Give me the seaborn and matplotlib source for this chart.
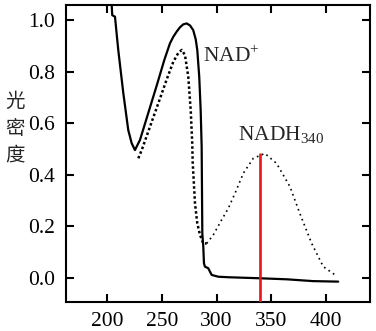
import matplotlib
matplotlib.use("Agg")
import matplotlib.pyplot as plt
import pandas as pd
import seaborn as sns

# Absorption spectra (wavelength in nm, optical density)
nad_wl = [204.3, 204.8, 207.3, 210.3, 214.9, 219.4, 222.5, 225.5, 230.1, 237.7,
          245.3, 252.3, 257.5, 260.5, 263.6, 266.6, 269.5, 272.7, 275.8, 278.7,
          281.0, 282.4, 284.2, 285.5, 286.4, 287.0, 287.9, 288.5, 289.4, 292.4,
          295.5, 301.6, 310.7, 339.6, 364.0, 388.0, 411.0]
nad_od = [1.058, 1.019, 1.013, 0.884, 0.717, 0.574, 0.523, 0.496, 0.535, 0.640,
          0.745, 0.845, 0.910, 0.935, 0.955, 0.972, 0.983, 0.987, 0.979, 0.961,
          0.925, 0.884, 0.780, 0.651, 0.509, 0.173, 0.121, 0.057, 0.044, 0.038,
          0.012, 0.005, 0.003, -0.001, -0.005, -0.012, -0.014]

nadh_wl = [228.6, 231.7, 239.2, 248.4, 254.5, 260.5, 265.0, 268.2, 271.2, 274.2,
           276.4, 277.8, 278.2, 280.3, 282.4, 284.9, 287.9, 291.0,
           297.0, 304.6, 310.7, 317.0, 324.4, 333.5, 344.1, 354.8, 367.0, 376.0,
           386.8, 397.4, 409.5]
nadh_od = [0.464, 0.496, 0.586, 0.696, 0.770, 0.838, 0.872, 0.884, 0.864, 0.780,
           0.651, 0.523, 0.450, 0.290, 0.212, 0.167, 0.134, 0.134,
           0.167, 0.225, 0.270, 0.330, 0.406, 0.464, 0.483, 0.444, 0.354, 0.250,
           0.134, 0.044, 0.008]

marker_wl = 340
marker_od = 0.483

x_ticks = [200, 250, 300, 350, 400]
y_ticks = [0.0, 0.2, 0.4, 0.6, 0.8, 1.0]
y_label = "光\n密\n度"

sns.set_style("ticks")
plt.rcParams["font.family"] = ["Liberation Serif", "Noto Sans CJK SC"]
plt.rcParams["mathtext.fontset"] = "custom"
plt.rcParams["mathtext.rm"] = "Liberation Serif"
plt.rcParams["axes.edgecolor"] = "black"
plt.rcParams["xtick.color"] = "black"
plt.rcParams["ytick.color"] = "black"

nad = pd.DataFrame({"wl": nad_wl, "od": nad_od})
nadh = pd.DataFrame({"wl": nadh_wl, "od": nadh_od})
split = nadh_wl.index(291.0)
nadh_left = nadh.iloc[:split + 1]
nadh_right = nadh.iloc[split:]

fig = plt.figure(figsize=(3.76, 3.31), dpi=100)
ax = fig.add_axes([0.1755, 0.0876, 0.8085, 0.897])

sns.lineplot(data=nad, x="wl", y="od", ax=ax, color="black", linewidth=1.6,
             sort=False, estimator=None)
sns.lineplot(data=nadh_left, x="wl", y="od", ax=ax, color="black", linewidth=1.8,
             linestyle=(0, (1, 1)), sort=False, estimator=None)
sns.lineplot(data=nadh_right, x="wl", y="od", ax=ax, color="black", linewidth=1.2,
             linestyle=(0, (1, 2.2)), sort=False, estimator=None)

ax.set_xlim(162.6, 440)
ax.set_ylim(-0.093, 1.058)
ax.vlines(marker_wl, -0.093, marker_od, color="#e8141b", linewidth=1.9, zorder=3)

ax.set_xticks(x_ticks)
ax.set_xticklabels([str(t) for t in x_ticks])
ax.set_yticks(y_ticks)
ax.set_yticklabels([f"{t:.1f}" for t in y_ticks])
ax.tick_params(direction="in", length=6, width=1.5, labelsize=15.5,
               top=True, right=True, pad=7)
ax.tick_params(axis="y", pad=8)
for s in ax.spines.values():
    s.set_linewidth(1.5)
    s.set_visible(True)

ax.set_xlabel("")
ax.set_ylabel("")
fig.text(0.04, 0.50, y_label, fontsize=14, family="Noto Sans CJK SC",
         linespacing=1.35, ha="center", va="bottom")

ax.text(287.6, 0.837, r"NAD$^{+}$", fontsize=15.5, ha="left", va="baseline")
ax.text(319.5, 0.535, r"NADH$_{340}$", fontsize=15.5, ha="left", va="baseline")

fig.savefig("out.png", dpi=100)
